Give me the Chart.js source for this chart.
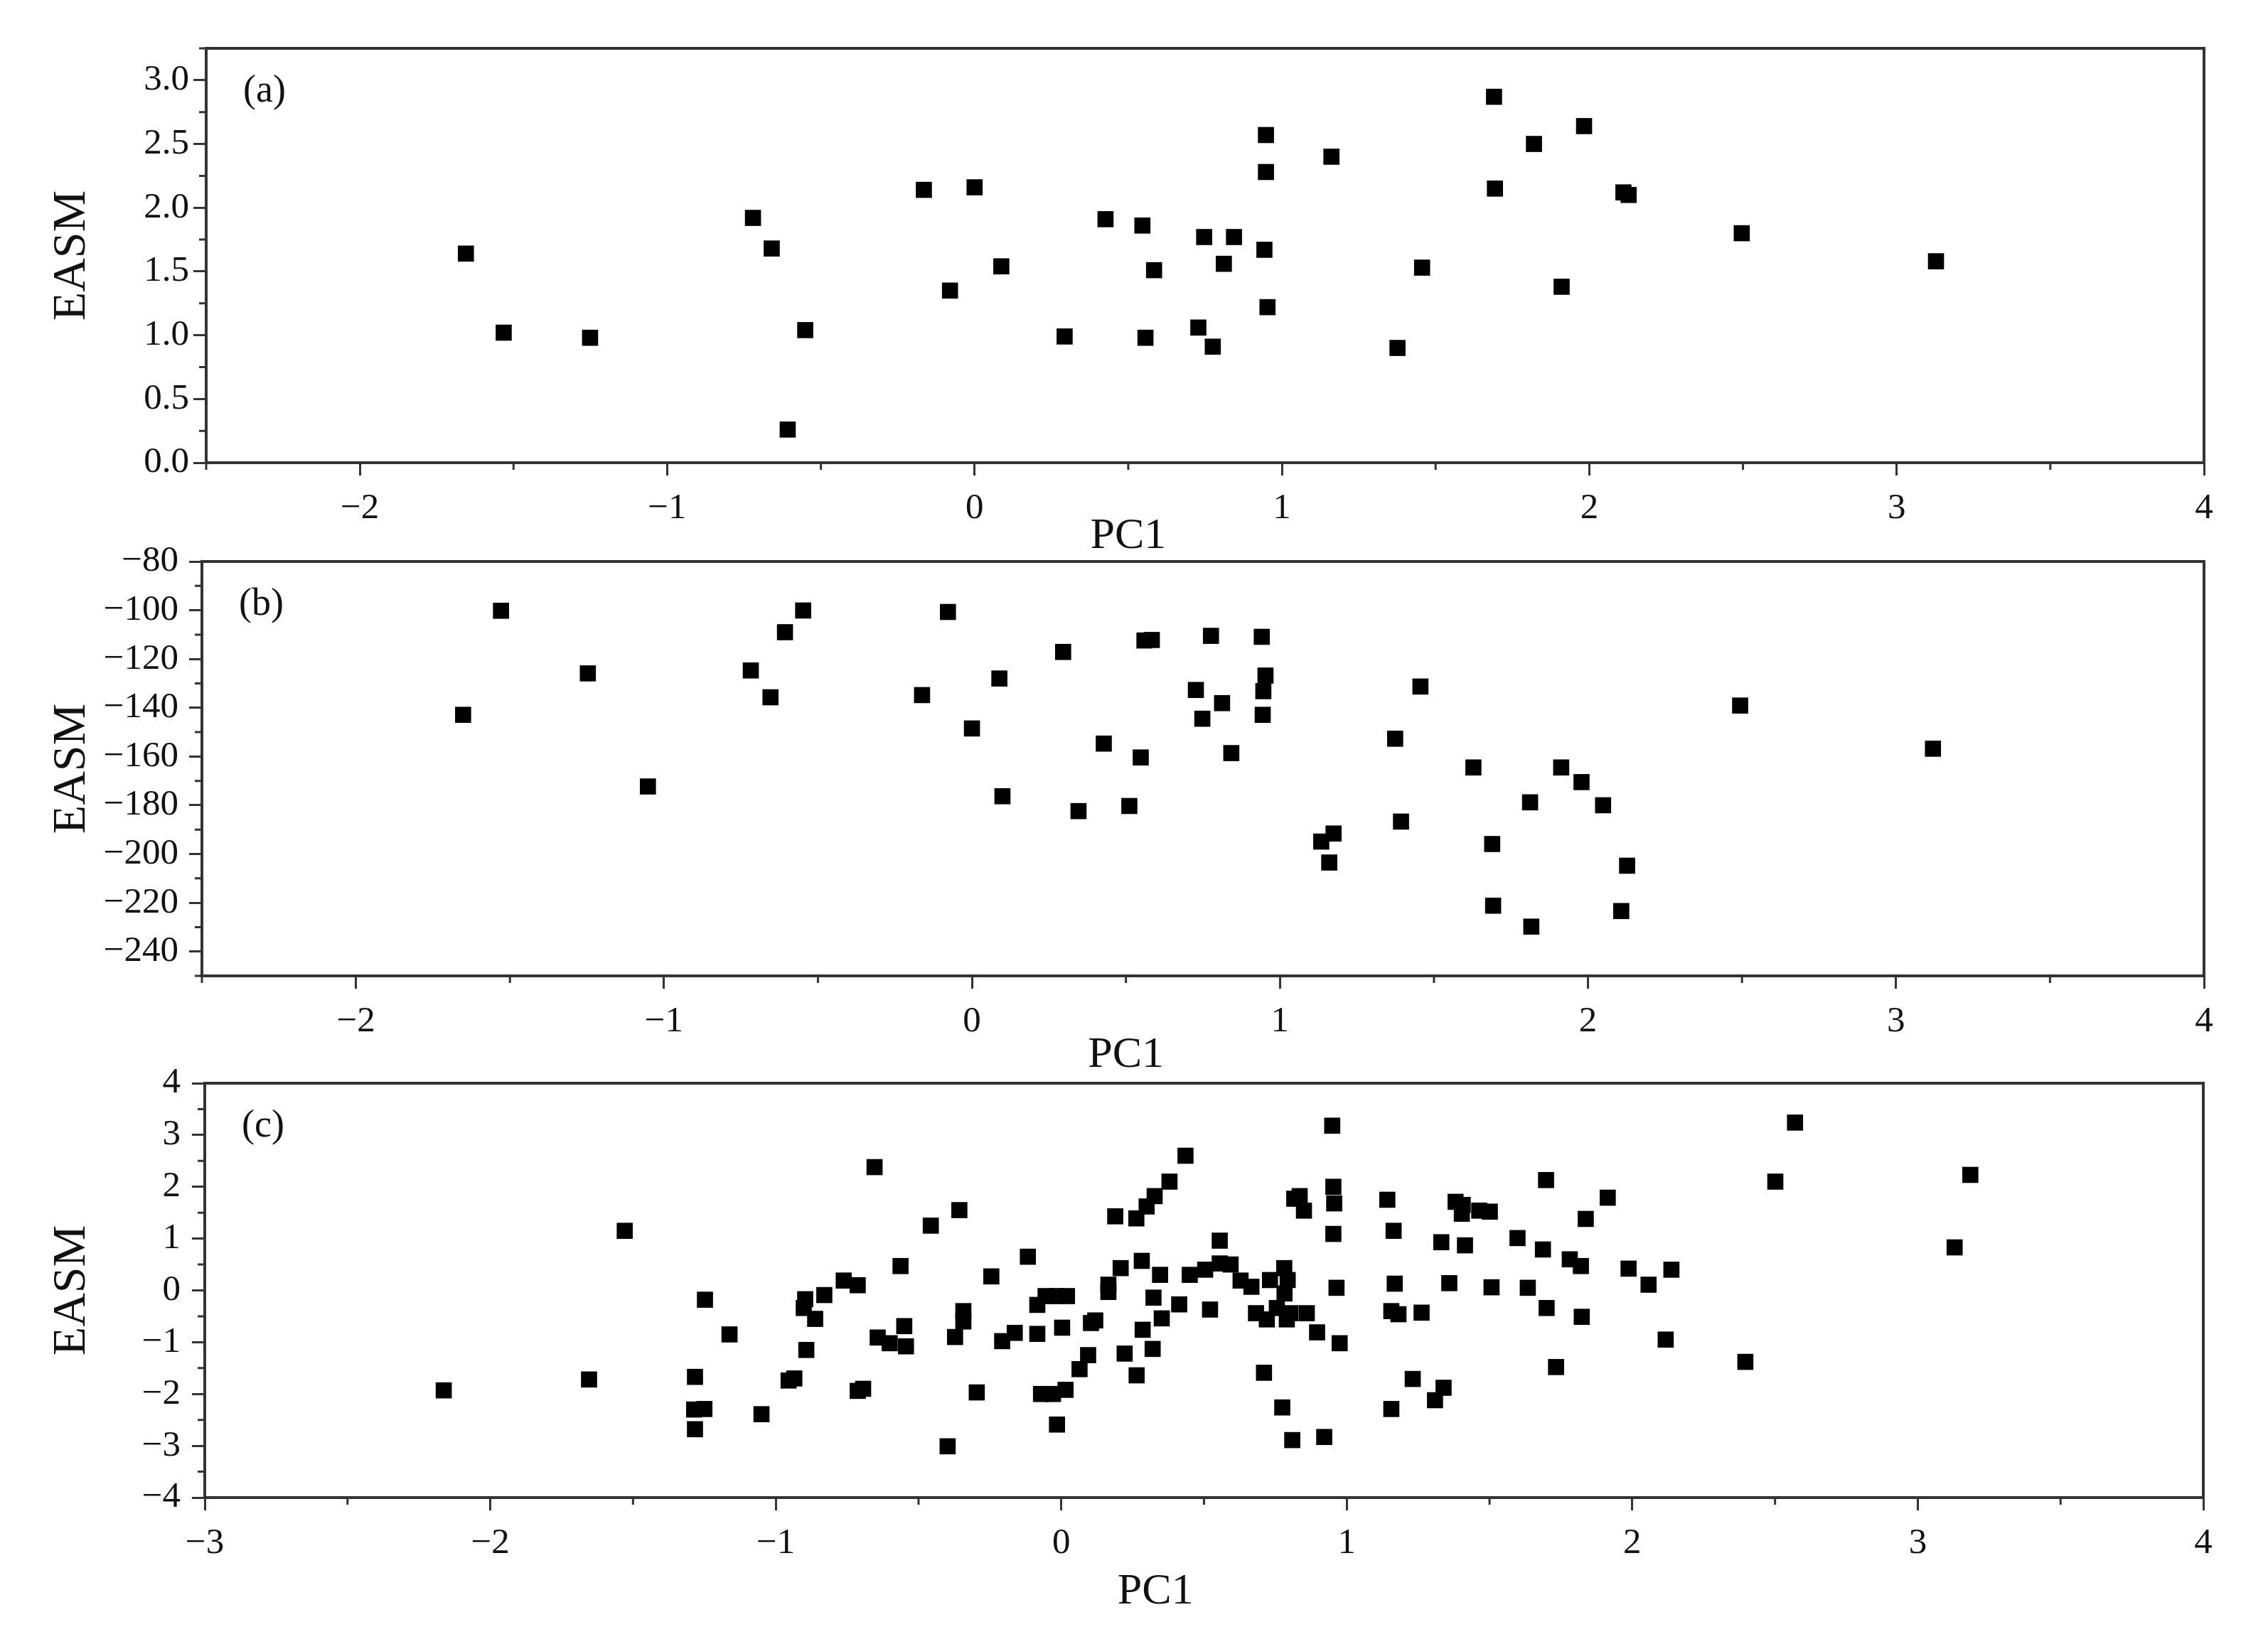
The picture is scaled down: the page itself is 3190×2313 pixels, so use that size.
<!DOCTYPE html>
<html>
<head>
<meta charset="utf-8">
<title>EASM vs PC1</title>
<script src="https://cdn.jsdelivr.net/npm/chart.js@4.4.1/dist/chart.umd.min.js"></script>
<style>
    html, body { margin: 0; padding: 0; background: #fff; }
    body { width: 3190px; height: 2313px; position: relative; overflow: hidden; }
    canvas { position: absolute; left: 0; }
</style>
</head>
<body>
<canvas id="chartA" width="3190" height="790" style="top:0px"></canvas>
<canvas id="chartB" width="3190" height="780" style="top:740px"></canvas>
<canvas id="chartC" width="3190" height="843" style="top:1470px"></canvas>
<script>
/**
 * Scatter of EASM against PC1, three stacked panels (a), (b), (c)
 */

// panel (a)
const aPC1 = [-1.655, -1.532, -1.251, -0.721, -0.660, -0.551, -0.608, -0.165, 0.000, -0.080,
    0.087, 0.293, 0.426, 0.546, 0.584, 0.556, 0.747, 0.844, 0.811, 0.943,
    0.948, 0.948, 0.953, 0.728, 0.775, 1.161, 1.456, 1.376, 1.690, 1.693,
    1.820, 1.983, 1.910, 2.111, 2.128, 2.496, 3.128];
const aEASM = [1.64, 1.02, 0.98, 1.92, 1.68, 1.04, 0.26, 2.14, 2.16, 1.35,
    1.54, 0.99, 1.91, 1.86, 1.51, 0.98, 1.77, 1.77, 1.56, 1.67,
    2.57, 2.28, 1.22, 1.06, 0.91, 2.40, 1.53, 0.90, 2.87, 2.15,
    2.50, 2.64, 1.38, 2.12, 2.10, 1.80, 1.58];

// panel (b)
const bPC1 = [-1.529, -1.652, -1.247, -1.052, -0.718, -0.654, -0.607, -0.548, -0.078, -0.162,
    0.000, 0.089, 0.099, 0.296, 0.346, 0.428, 0.511, 0.560, 0.584, 0.548,
    0.776, 0.941, 0.953, 0.946, 0.944, 0.727, 0.812, 0.748, 0.842, 1.456,
    1.374, 1.393, 1.174, 1.134, 1.160, 1.628, 1.689, 1.692, 1.913, 1.979,
    1.812, 2.049, 2.127, 2.108, 1.816, 2.494, 3.120];
const bEASM = [-100.2, -142.9, -125.9, -172.3, -124.7, -135.7, -109.0, -100.1, -100.7, -134.8,
    -148.5, -128.0, -176.3, -117.1, -182.4, -154.7, -180.3, -112.4, -112.2, -160.4,
    -110.5, -110.9, -126.8, -133.2, -142.9, -132.7, -138.1, -144.5, -158.6, -131.3,
    -152.7, -186.7, -191.6, -194.9, -203.5, -164.5, -195.9, -221.2, -164.5, -170.5,
    -178.8, -180.0, -204.8, -223.4, -229.8, -139.1, -156.8];

// panel (c)
const cPC1 = [-2.163, -1.654, -1.529, -1.248, -1.162, -1.283, -1.286, -1.250, -1.283, -1.050,
    -0.955, -0.935, -0.654, -0.357, -0.457, -0.563, -0.762, -0.713, -0.830, -0.897,
    -0.902, -0.862, -0.893, -0.713, -0.694, -0.643, -0.601, -0.550, -0.544, -0.343,
    -0.343, -0.372, -0.398, -0.296, -0.245, -0.207, -0.163, -0.117, -0.084, -0.084,
    -0.055, -0.015, 0.020, 0.003, -0.071, -0.029, 0.015, -0.015, 0.064, 0.094,
    0.104, 0.119, 0.165, 0.165, 0.208, 0.189, 0.263, 0.299, 0.327, 0.379,
    0.435, 0.282, 0.346, 0.323, 0.352, 0.285, 0.320, 0.222, 0.264, 0.413,
    0.450, 0.504, 0.555, 0.555, 0.593, 0.521, 0.628, 0.666, 0.731, 0.781,
    0.793, 0.782, 0.682, 0.720, 0.755, 0.790, 0.803, 0.860, 0.896, 0.975,
    0.964, 0.953, 0.956, 0.953, 0.949, 0.816, 0.835, 0.850, 0.710, 0.774,
    0.809, 0.921, 1.142, 1.164, 1.168, 1.156, 1.181, 1.262, 1.231, 1.156,
    1.309, 1.339, 1.331, 1.359, 1.381, 1.406, 1.403, 1.414, 1.464, 1.501,
    1.507, 1.598, 1.634, 1.687, 1.698, 1.700, 1.733, 1.781, 1.820, 1.837,
    1.823, 1.914, 1.987, 2.057, 2.137, 2.117, 2.396, 2.501, 2.570, 3.184,
    3.129];
const cEASM = [-1.93, -1.72, 1.15, -0.18, -0.85, -1.67, -2.30, -2.29, -2.68, -2.39,
    -1.74, -1.70, 2.38, 1.55, 1.25, 0.47, 0.19, 0.10, -0.09, -0.17,
    -0.34, -0.55, -1.15, -1.94, -1.90, -0.91, -1.02, -0.69, -1.08, -0.40,
    -0.60, -0.90, -3.01, -1.97, 0.27, -0.98, -0.82, 0.65, -0.28, -0.84,
    -0.11, -0.11, -0.11, -0.72, -2.00, -2.00, -1.92, -2.59, -1.52, -1.25,
    -0.63, -0.58, 0.11, -0.03, 0.43, 1.43, 1.39, 1.62, 1.82, 2.10,
    2.60, 0.57, 0.30, -0.14, -0.54, -0.76, -1.13, -1.22, -1.64, -0.27,
    0.30, 0.40, 0.96, 0.52, 0.50, -0.37, 0.19, 0.07, 0.20, 0.43,
    0.20, -0.06, -0.44, -0.56, -0.34, -0.56, -0.44, -0.44, -0.81, -1.02,
    0.05, 1.09, 1.68, 2.00, 3.18, 1.77, 1.82, 1.54, -1.59, -2.26,
    -2.89, -2.83, 1.75, 1.15, 0.13, -0.40, -0.46, -0.43, -1.71, -2.29,
    -2.12, -1.88, 0.93, 0.14, 1.71, 1.65, 1.48, 0.87, 1.54, 1.52,
    0.06, 1.01, 0.05, 0.79, 2.13, -0.34, -1.48, 0.60, 0.47, 1.38,
    -0.51, 1.79, 0.42, 0.11, 0.40, -0.95, -1.38, 2.10, 3.24, 2.23,
    0.83];

// tick labels
const abXTicks = [-2, -1, 0, 1, 2, 3, 4];
const cXTicks = [-3, -2, -1, 0, 1, 2, 3, 4];
const aYTicks = [0, 0.5, 1.0, 1.5, 2.0, 2.5, 3.0];
const bYTicks = [-240, -220, -200, -180, -160, -140, -120, -100, -80];
const cYTicks = [-4, -3, -2, -1, 0, 1, 2, 3, 4];

const INK = '#333';
const TEXT = '#111';
const SERIF = '"Liberation Serif", "Times New Roman", serif';
const MAJOR_LEN = 18;
const MINOR_LEN = 10;

function minus(v) {
    return String(v).replace('-', '\u2212');
}

// keep the plot box where we put it, labels may overhang
function noOverhang(s) {
    s.paddingTop = 0;
    s.paddingBottom = 0;
    s.paddingLeft = 0;
    s.paddingRight = 0;
}

// frame, minor ticks, panel letter and x title
const decor = {
    id: 'decor',
    afterDraw(chart, args, opts) {
        const { ctx, chartArea: a, scales } = chart;
        const x = scales.x, y = scales.y;
        ctx.save();
        ctx.strokeStyle = INK;
        ctx.lineWidth = 4;
        ctx.strokeRect(a.left, a.top, a.right - a.left, a.bottom - a.top);

        ctx.lineWidth = 3;
        ctx.beginPath();
        const isMajor = (v, list) => list.some(m => Math.abs(m - v) < 1e-6);
        for (let i = 0; ; i++) {
            const v = x.min + i * opts.xMinor;
            if (v > x.max + 1e-6) break;
            if (isMajor(v, opts.xMajor)) continue;
            const px = x.getPixelForValue(v);
            ctx.moveTo(px, a.bottom);
            ctx.lineTo(px, a.bottom + MINOR_LEN);
        }
        for (let i = 0; ; i++) {
            const v = y.min + i * opts.yMinor;
            if (v > y.max + 1e-6) break;
            if (isMajor(v, opts.yMajor)) continue;
            const py = y.getPixelForValue(v);
            ctx.moveTo(a.left, py);
            ctx.lineTo(a.left - MINOR_LEN, py);
        }
        ctx.stroke();

        ctx.fillStyle = TEXT;
        ctx.textBaseline = 'middle';
        ctx.textAlign = 'left';
        ctx.font = '54px ' + SERIF;
        ctx.fillText(opts.label, a.left + 52, a.top + 61);

        ctx.textAlign = 'center';
        ctx.font = '62px ' + SERIF;
        ctx.fillText('PC1', x.getPixelForValue(opts.titleAt), a.bottom + opts.titleDy);
        ctx.restore();
    }
};

function makeChart(id, p) {
    const points = p.xs.map((v, i) => ({ x: v, y: p.ys[i] }));
    return new Chart(document.getElementById(id), {
        type: 'scatter',
        data: {
            datasets: [{
                data: points,
                pointStyle: 'rect',
                pointRadius: 16,
                backgroundColor: '#000',
                borderWidth: 0
            }]
        },
        options: {
            responsive: false,
            animation: false,
            devicePixelRatio: 1,
            events: [],
            layout: { padding: { left: 0, top: p.top, right: p.right, bottom: 0 } },
            plugins: {
                legend: { display: false },
                tooltip: { enabled: false },
                decor: {
                    label: p.label,
                    titleAt: p.titleAt,
                    titleDy: p.titleDy,
                    xMajor: p.xTicks,
                    yMajor: p.yTicks,
                    xMinor: p.xMinor,
                    yMinor: p.yMinor
                }
            },
            scales: {
                x: {
                    type: 'linear',
                    min: p.xMin,
                    max: p.xMax,
                    afterBuildTicks: s => { s.ticks = p.xTicks.map(v => ({ value: v })); },
                    afterFit: s => { s.height = p.xAxisH; noOverhang(s); },
                    grid: { drawOnChartArea: false, drawTicks: true, tickLength: MAJOR_LEN, tickWidth: 3, tickColor: INK },
                    border: { display: false },
                    ticks: {
                        color: TEXT,
                        padding: 16,
                        maxRotation: 0,
                        autoSkip: false,
                        font: { family: SERIF, size: 51 },
                        callback: v => minus(v)
                    }
                },
                y: {
                    type: 'linear',
                    min: p.yMin,
                    max: p.yMax,
                    afterBuildTicks: s => { s.ticks = p.yTicks.map(v => ({ value: v })); },
                    afterFit: s => { s.width = p.yAxisW; noOverhang(s); },
                    grid: { drawOnChartArea: false, drawTicks: true, tickLength: MAJOR_LEN, tickWidth: 3, tickColor: INK },
                    border: { display: false },
                    ticks: {
                        color: TEXT,
                        padding: p.yPad,
                        autoSkip: false,
                        font: { family: SERIF, size: 51 },
                        callback: p.yFormat
                    },
                    title: {
                        display: true,
                        text: 'EASM',
                        color: TEXT,
                        font: { family: SERIF, size: 66 },
                        padding: { top: 62, bottom: 0 }
                    }
                }
            }
        },
        plugins: [decor]
    });
}

makeChart('chartA', {
    xs: aPC1, ys: aEASM, label: '(a)',
    xMin: -2.5, xMax: 4, yMin: 0, yMax: 3.25,
    xTicks: abXTicks, yTicks: aYTicks, xMinor: 0.5, yMinor: 0.25,
    yFormat: v => v.toFixed(1),
    top: 68, right: 90, yAxisW: 290, xAxisH: 139, yPad: 6,
    titleAt: 0.5, titleDy: 104
});

makeChart('chartB', {
    xs: bPC1, ys: bEASM, label: '(b)',
    xMin: -2.5, xMax: 4, yMin: -250, yMax: -80,
    xTicks: abXTicks, yTicks: bYTicks, xMinor: 0.5, yMinor: 10,
    yFormat: v => minus(v),
    top: 50, right: 90, yAxisW: 284, xAxisH: 147, yPad: 15,
    titleAt: 0.5, titleDy: 112
});

makeChart('chartC', {
    xs: cPC1, ys: cEASM, label: '(c)',
    xMin: -3, xMax: 4, yMin: -4, yMax: 4,
    xTicks: cXTicks, yTicks: cYTicks, xMinor: 0.5, yMinor: 0.5,
    yFormat: v => minus(v),
    top: 54, right: 91, yAxisW: 288, xAxisH: 206, yPad: 16,
    titleAt: 0.33, titleDy: 133
});
</script>
</body>
</html>
